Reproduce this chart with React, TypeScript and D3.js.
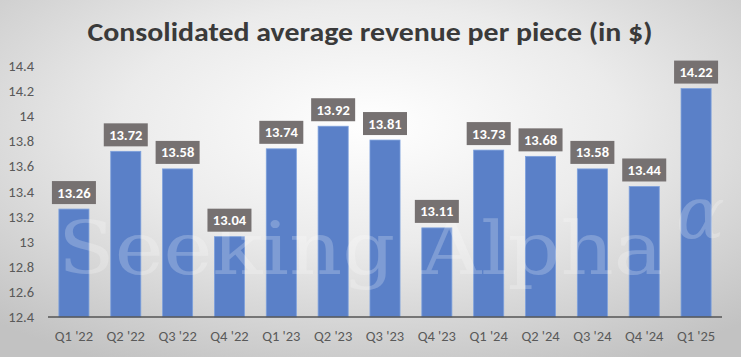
import React from "react";
import * as d3 from "d3";

const categories = ["Q1 '22", "Q2 '22", "Q3 '22", "Q4 '22", "Q1 '23", "Q2 '23", "Q3 '23", "Q4 '23", "Q1 '24", "Q2 '24", "Q3 '24", "Q4 '24", "Q1 '25"];
const values = [13.26, 13.72, 13.58, 13.04, 13.74, 13.92, 13.81, 13.11, 13.73, 13.68, 13.58, 13.44, 14.22];
const yTicks = [12.4, 12.6, 12.8, 13, 13.2, 13.4, 13.6, 13.8, 14, 14.2, 14.4];
const title = "Consolidated average revenue per piece (in $)";

const W = 741, H = 357;

export default function App() {
  const x = d3.scaleBand<string>().domain(categories).range([48, 722]).paddingInner(0.42).paddingOuter(0.21);
  const y = d3.scaleLinear().domain([12.4, 14.4]).range([317, 66]);
  const font = "Carlito, Calibri, Lato, 'Open Sans', sans-serif";
  return (
    <svg width={W} height={H} style={{ position: "absolute", left: 0, top: 0 }}>
      <defs>
        <radialGradient id="bg" cx="50%" cy="35%" r="75%">
          <stop offset="0%" stopColor="#ffffff" />
          <stop offset="45%" stopColor="#ebebeb" />
          <stop offset="100%" stopColor="#c2c2c2" />
        </radialGradient>
      </defs>
      <rect x={0} y={0} width={W} height={H} fill="url(#bg)" />
      <text x={370} y={41} textAnchor="middle" fontFamily={font} fontWeight="bold" fontSize={26} fill="#3a3a3a" textLength={565} lengthAdjust="spacingAndGlyphs">{title}</text>
      {yTicks.map((t) => (
        <text key={t} x={34} y={y(t) + 5} textAnchor="end" fontFamily={font} fontSize={14.5} fill="#595959">{String(t)}</text>
      ))}
      {categories.map((c, i) => (
        <rect key={c} x={x(c)} y={y(values[i])} width={x.bandwidth()} height={317 - y(values[i])} fill="#5A80C8" stroke="#7da0dc" strokeWidth={0.8} />
      ))}
      <text x={58} y={274} fontFamily="'DejaVu Serif', 'Liberation Serif', serif" fontSize={72} fill="#ffffff" fillOpacity={0.22} textLength={605} lengthAdjust="spacingAndGlyphs">Seeking Alpha</text>
      <text x={676} y={238} fontFamily="'DejaVu Serif', serif" fontStyle="italic" fontSize={72} fill="#ffffff" fillOpacity={0.22}>α</text>
      <line x1={48} x2={722} y1={317} y2={317} stroke="#555" strokeWidth={1.5} />
      {categories.map((c) => (
        <text key={c} x={x(c)! + x.bandwidth() / 2} y={341} textAnchor="middle" fontFamily={font} fontSize={14.5} fill="#595959">{c}</text>
      ))}
      {categories.map((c, i) => {
        const cx = x(c)! + x.bandwidth() / 2;
        const top = y(values[i]);
        return (
          <g key={c}>
            <rect x={cx - 22} y={top - 28} width={44} height={23} fill="#767171" />
            <text x={cx} y={top - 11.5} textAnchor="middle" fontFamily={font} fontWeight="bold" fontSize={14.5} fill="#ffffff">{values[i].toFixed(2)}</text>
          </g>
        );
      })}
    </svg>
  );
}
